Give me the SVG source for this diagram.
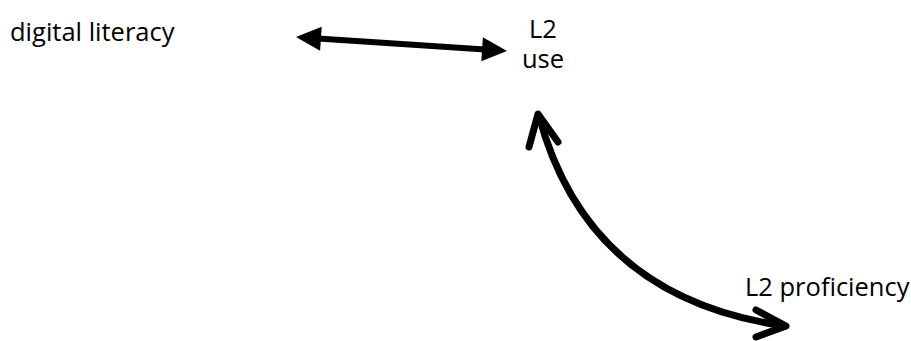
<svg xmlns="http://www.w3.org/2000/svg" width="911" height="341" viewBox="0 0 911 341">
<style>
.lbl{font-family:"Open Sans","Noto Sans",sans-serif;font-size:25.5px;fill:#000}
.thick{stroke:#000;stroke-width:7;fill:none;stroke-linecap:round;stroke-linejoin:round}
</style>
<rect width="911" height="341" fill="#fff"/>
<g id="node-digital-literacy"><text class="lbl" x="10" y="41">digital literacy</text></g>
<g id="node-l2-use"><text class="lbl" x="543" y="38" text-anchor="middle">L2</text><text class="lbl" x="543" y="68" text-anchor="middle">use</text></g>
<g id="node-l2-proficiency"><text class="lbl" x="745" y="296">L2 proficiency</text></g>
<g id="connectors">
<line x1="318" y1="38.5" x2="485" y2="49.5" stroke="#000" stroke-width="6"/>
<polygon points="296,37 320.1,50.7 321.7,26.7" fill="#000"/>
<polygon points="507,51 481.3,61.3 482.9,37.3" fill="#000"/>
<path class="thick" d="M539,116 Q588,298 785,326" stroke-linecap="butt"/>
<path class="thick" d="M529,147 L538,114 L558,142"/>
<path class="thick" d="M756,310 L786,326 L756,337"/>
</g>
</svg>
